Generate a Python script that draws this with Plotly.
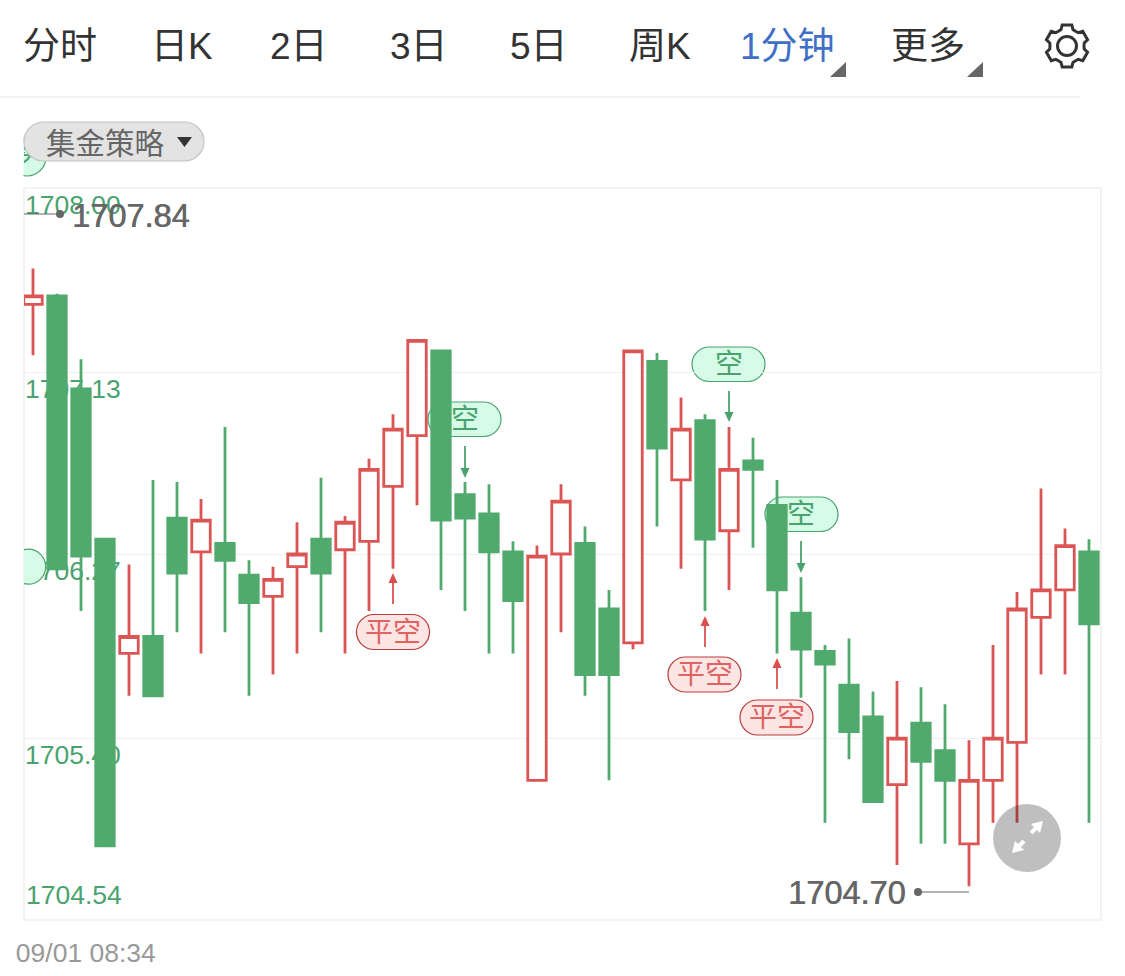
import math
import plotly.graph_objects as go

# ---------- data ----------
minutes = list(range(45))
opens = [1707.45,1707.49,1707.05,1706.34,1705.80,1705.88,1706.44,1706.28,1706.32,1706.17,1706.07,1706.21,1706.34,1706.29,1706.33,
         1706.59,1706.83,1707.23,1706.55,1706.46,1706.28,1705.20,1706.27,1706.32,1706.01,1705.85,1707.18,1706.62,1706.90,1706.38,
         1706.71,1706.50,1705.99,1705.81,1705.65,1705.50,1705.18,1705.47,1705.34,1704.90,1705.20,1705.38,1705.97,1706.10,1706.28]
highs = [1707.62,1707.50,1707.19,1706.34,1706.22,1706.62,1706.61,1706.53,1706.87,1706.24,1706.21,1706.42,1706.63,1706.45,1706.72,
         1706.93,1707.28,1707.23,1706.61,1706.60,1706.33,1706.31,1706.60,1706.40,1706.10,1707.23,1707.22,1707.01,1706.93,1706.87,
         1706.82,1706.62,1706.16,1705.84,1705.87,1705.62,1705.67,1705.64,1705.56,1705.39,1705.84,1706.09,1706.58,1706.39,1706.34]
lows = [1707.21,1706.19,1706.00,1704.89,1705.60,1705.60,1705.90,1705.80,1705.90,1705.60,1705.70,1705.80,1705.90,1705.80,1706.00,
        1706.20,1706.50,1706.10,1706.00,1705.80,1705.80,1705.20,1705.90,1705.60,1705.20,1705.82,1706.40,1706.20,1706.00,1706.10,
        1706.30,1705.80,1705.59,1705.00,1705.30,1705.10,1704.80,1704.90,1704.90,1704.70,1705.00,1705.00,1705.70,1705.70,1705.00]
closes = [1707.49,1706.20,1706.26,1704.89,1705.88,1705.60,1706.18,1706.43,1706.24,1706.04,1706.15,1706.27,1706.18,1706.42,1706.67,
          1706.86,1707.28,1706.43,1706.44,1706.28,1706.05,1706.26,1706.52,1705.70,1705.70,1707.23,1706.77,1706.86,1706.34,1706.67,
          1706.67,1706.10,1705.82,1705.75,1705.43,1705.10,1705.40,1705.29,1705.20,1705.20,1705.40,1706.01,1706.10,1706.31,1705.94]
tick_values = [1708.00, 1707.13, 1706.27, 1705.40, 1704.54]
tick_labels = ["1708.00", "1707.13", "1706.27", "1705.40", ""]
time_tick = [2.2]
time_label = ["09/01 08:34"]
tabs = ["分时", "日K", "2日", "3日", "5日", "周K", "1分钟", "更多"]
tab_centers = [60, 182, 299, 419, 539, 660, 787, 928]
y_range = [1704.54, 1708.00]
x_range = [-0.375, 44.5]

# ---------- palette ----------
GREEN = "#50aa6e"
RED = "#db5555"
LABEL_GREEN = "#4aa36f"
FONT = "Liberation Sans, Noto Sans CJK SC, sans-serif"
W, H = 1125, 976
L, R, T, B = 24, 1101, 188, 920


def fx(p):
    return p / W


def fy(p):
    return 1 - p / H


def poly(points, close=True):
    s = "M " + " L ".join(f"{fx(a):.5f},{fy(b):.5f}" for a, b in points)
    return s + (" Z" if close else "")


def pill_path(x0, y0, x1, y1):
    r = (y1 - y0) / 2
    k = 0.5523 * r
    P = lambda a, b: f"{fx(a):.5f},{fy(b):.5f}"
    return (f"M {P(x0+r,y0)} L {P(x1-r,y0)} C {P(x1-r+k,y0)} {P(x1,y0+r-k)} {P(x1,y0+r)} "
            f"C {P(x1,y0+r+k)} {P(x1-r+k,y1)} {P(x1-r,y1)} L {P(x0+r,y1)} "
            f"C {P(x0+r-k,y1)} {P(x0,y0+r+k)} {P(x0,y0+r)} C {P(x0,y0+r-k)} {P(x0+r-k,y0)} {P(x0+r,y0)} Z")


def shape_path(path, fill=None, line=None, width=1.0, layer="above"):
    d = dict(type="path", xref="paper", yref="paper", path=path, layer=layer,
             line=dict(color=line or "rgba(0,0,0,0)", width=width if line else 0))
    if fill:
        d["fillcolor"] = fill
    return d


def seg(x0, y0, x1, y1, color, width=1.0, layer="above"):
    return dict(type="line", xref="paper", yref="paper", x0=fx(x0), y0=fy(y0), x1=fx(x1), y1=fy(y1),
                layer=layer, line=dict(color=color, width=width))


def text(t, x, y, size, color, anchor="center", shadow=None):
    f = dict(family=FONT, size=size, color=color)
    if shadow:
        f["shadow"] = shadow
    return dict(text=t, xref="paper", yref="paper", x=fx(x), y=fy(y), xanchor=anchor, yanchor="middle",
                showarrow=False, borderpad=0, font=f)


shapes, annos = [], []

# toolbar
for t, c in zip(tabs, tab_centers):
    annos.append(text(t, c, 46.5, 37, "#3f6fc6" if t == "1分钟" else "#333333"))
for a in (830, 967):
    shapes.append(shape_path(poly([(a + 16, 62), (a + 16, 77), (a, 77)]), fill="#666666"))
shapes.append(seg(0, 97, 1080, 97, "#f0f0f0", 1.5))

# gear
gear = []
for deg in range(0, 360, 60):
    for off, rad in ((-30, 17), (-20, 17.5), (-13, 21.5), (13, 21.5), (20, 17.5)):
        a = math.radians(deg + 90 + off)
        gear.append((1067 + rad * math.cos(a), 46 - rad * math.sin(a)))
shapes.append(shape_path(poly(gear), line="#333333", width=3))
shapes.append(dict(type="circle", xref="paper", yref="paper", x0=fx(1057.5), x1=fx(1076.5), y0=fy(55.5), y1=fy(36.5),
                   line=dict(color="#333333", width=3)))

# plot frame
shapes.append(dict(type="rect", xref="paper", yref="paper", x0=fx(L), x1=fx(R), y0=fy(B), y1=fy(T), layer="below",
                   line=dict(color="#f0f0f0", width=1.5)))

# clipped pill behind the selector
shapes.append(dict(type="circle", xref="paper", yref="paper", x0=fx(8), x1=fx(46), y0=fy(176), y1=fy(138), layer="below",
                   fillcolor="#d6fbe6", line=dict(color=LABEL_GREEN, width=1.2)))
shapes.append(dict(type="rect", xref="paper", yref="paper", x0=fx(0), x1=fx(23.5), y0=fy(180), y1=fy(130),
                   fillcolor="#ffffff", line=dict(width=0)))

# selector
shapes.append(shape_path(pill_path(24, 122, 204, 161), fill="#e3e3e3", line="#c4c4c4", width=1.2))
shapes.append(shape_path(poly([(177, 137), (192, 137), (184.5, 147)]), fill="#333333"))
annos.append(text("集金策略", 105, 143.5, 29.5, "#666666"))

# signal pills: 空 (short) and 平空 (close short)
for x0, y0, cx, a0, a1 in ((428, 402, 465, 446, 478), (692, 347, 729, 391, 422), (765, 497, 801, 541, 573)):
    shapes.append(shape_path(pill_path(x0, y0, x0 + 73, y0 + 34.5), fill="#d6fbe6", line=LABEL_GREEN, width=1.2, layer="below"))
    annos.append(text("空", cx, y0 + 17, 28, LABEL_GREEN))
    shapes.append(seg(cx, a0, cx, a1 - 8, LABEL_GREEN, 1.8))
    shapes.append(shape_path(poly([(cx - 4.5, a1 - 10), (cx + 4.5, a1 - 10), (cx, a1)]), fill=LABEL_GREEN))
for x0, y0, cx, a0, a1 in ((356.5, 614.5, 393, 604, 573), (668, 657, 705, 647, 616), (740, 700, 777, 689, 658)):
    shapes.append(shape_path(pill_path(x0, y0, x0 + 73, y0 + 35), fill="#fde5e3", line="#b93b3b", width=1.2))
    annos.append(text("平空", cx, y0 + 17.5, 28, "#e06363"))
    shapes.append(seg(cx, a0, cx, a1 + 8, "#dc4f4f", 1.8))
    shapes.append(shape_path(poly([(cx - 4.5, a1 + 10), (cx + 4.5, a1 + 10), (cx, a1)]), fill="#dc4f4f"))

# high / low markers
annos.append(text("1707.84", 71, 216, 32.5, "#666666", "left", shadow="0.6px 0 0 #666666"))
shapes.append(seg(24, 214, 60, 214, "#666666", 1.2))
annos.append(text("1704.70", 906, 893, 32.5, "#666666", "right", shadow="0.6px 0 0 #666666"))
shapes.append(seg(918, 892, 969, 892, "#666666", 1.2))
for cx, cy in ((60, 214), (918, 892)):
    shapes.append(dict(type="circle", xref="paper", yref="paper", x0=fx(cx - 4), x1=fx(cx + 4), y0=fy(cy + 4), y1=fy(cy - 4),
                       fillcolor="#666666", line=dict(width=0)))

# bottom axis label that sits above its tick
annos.append(text("1704.54", 24.5, 895, 26.5, LABEL_GREEN, "left"))

# expand button
shapes.append(dict(type="circle", xref="paper", yref="paper", x0=fx(993), x1=fx(1061), y0=fy(872), y1=fy(804),
                   fillcolor="rgba(0,0,0,0.25)", line=dict(width=0)))
shapes.append(seg(1031, 833, 1038, 826, "#ffffff", 4))
shapes.append(shape_path(poly([(1043, 821), (1031, 824), (1040, 833)]), fill="#ffffff"))
shapes.append(seg(1024, 841, 1017, 848, "#ffffff", 4))
shapes.append(shape_path(poly([(1012, 853), (1024, 850), (1015, 841)]), fill="#ffffff"))

fig = go.Figure()
# the pill at the left edge covers the tick label but stays beneath the candles
fig.add_trace(go.Scatter(x=[-0.2], y=[1706.21], mode="markers", hoverinfo="skip", showlegend=False,
                         marker=dict(size=35, color="#d6fbe6", line=dict(color=LABEL_GREEN, width=1.2))))
# glyph of the pill behind the selector, clipped by its own small subplot
fig.add_trace(go.Scatter(x=[-0.18], y=[0.55], mode="text", text=["多"], textposition="middle center",
                         xaxis="x3", yaxis="y3", hoverinfo="skip", showlegend=False,
                         textfont=dict(family=FONT, size=26, color=LABEL_GREEN)))
fig.add_trace(go.Candlestick(
    x=minutes, open=opens, high=highs, low=lows, close=closes, xaxis="x2", yaxis="y2", showlegend=False,
    increasing=dict(line=dict(color=RED, width=2.8), fillcolor="#ffffff"),
    decreasing=dict(line=dict(color=GREEN, width=2.8), fillcolor=GREEN),
))

x_dom = [L / W, R / W]
y_dom = [1 - B / H, 1 - T / H]
fig.update_layout(
    width=W, height=H, margin=dict(l=0, r=0, t=0, b=0, autoexpand=False),
    paper_bgcolor="#ffffff", plot_bgcolor="rgba(0,0,0,0)", showlegend=False, boxgap=0.23, boxgroupgap=0,
    font=dict(family=FONT),
    xaxis=dict(domain=x_dom, range=x_range, tickvals=time_tick, ticktext=time_label, showgrid=False, zeroline=False,
               showline=False, ticks="", ticklabeloverflow="allow", ticklabelstandoff=14,
               tickfont=dict(family=FONT, size=26.5, color="#999999"), tickangle=0),
    yaxis=dict(domain=y_dom, range=y_range, tickvals=tick_values, ticktext=tick_labels, showgrid=True, gridcolor="#f0f0f0", gridwidth=1.2,
               zeroline=False, showline=False, ticks="", ticklabelposition="inside", layer="below traces",
               ticklabelshift=17, ticklabeloverflow="allow", ticklabelstandoff=-2,
               tickfont=dict(family=FONT, size=26.5, color=LABEL_GREEN)),
    xaxis2=dict(domain=x_dom, range=x_range, overlaying="x", visible=False, rangeslider=dict(visible=False)),
    yaxis2=dict(domain=y_dom, range=y_range, overlaying="y", visible=False),
    xaxis3=dict(domain=[L / W, 46 / W], range=[0, 1], visible=False, anchor="y3"),
    yaxis3=dict(domain=[1 - 180 / H, 1 - 140 / H], range=[0, 1], visible=False, anchor="x3"),
    shapes=shapes, annotations=annos,
)

fig.write_html("out.html", config={"displayModeBar": False}, post_script="document.body.style.margin='0';")
